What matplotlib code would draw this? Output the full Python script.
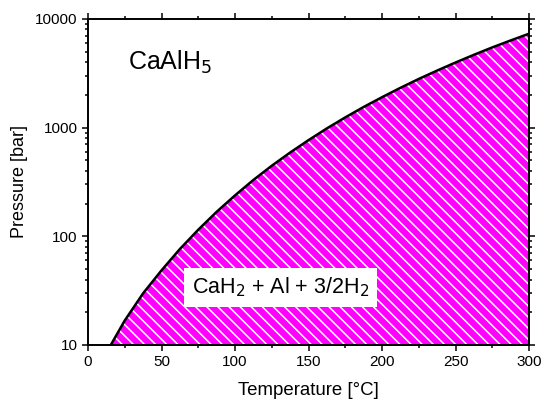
import matplotlib
matplotlib.use("Agg")
import matplotlib.pyplot as plt
from matplotlib.ticker import FixedLocator, LogLocator, NullFormatter, MultipleLocator, FuncFormatter

plt.rcParams['font.family'] = ['Liberation Sans', 'DejaVu Sans']
plt.rcParams['hatch.linewidth'] = 1.1

# Data (temperature in °C, pressure in bar)
temperature = [15.5, 25, 37.5, 50, 62.5, 75, 87.5, 100, 112.5, 125, 137.5, 150, 162.5,
               175, 187.5, 200, 212.5, 225, 237.5, 250, 262.5, 275, 287.5, 300]
pressure = [10, 16.8, 29.9, 48.6, 76.4, 115, 168, 238, 330, 446, 590, 767, 984,
            1242, 1549, 1905, 2323, 2805, 3350, 3972, 4677, 5470, 6339, 7311]

x_ticks = [0, 50, 100, 150, 200, 250, 300]
y_ticks = [10, 100, 1000, 10000]

fig = plt.figure(figsize=(5.5, 4.11), dpi=100)
ax = fig.add_axes([0.16, 0.1606, 0.802, 0.7934])

ax.fill_between(temperature, pressure, 10, facecolor='#FF00FF', edgecolor='white',
                hatch='\\\\\\', linewidth=0, zorder=1)
ax.plot(temperature, pressure, color='black', lw=1.8, zorder=3)

ax.set_yscale('log')
ax.set_xlim(0, 300)
ax.set_ylim(10, 10000)

ax.xaxis.set_major_locator(FixedLocator(x_ticks))
ax.xaxis.set_minor_locator(MultipleLocator(25))
ax.yaxis.set_major_locator(FixedLocator(y_ticks))
ax.yaxis.set_minor_locator(LogLocator(base=10, subs=range(2, 10)))
ax.yaxis.set_minor_formatter(NullFormatter())
ax.yaxis.set_major_formatter(FuncFormatter(lambda v, p: f"{int(round(v))}"))

for s in ax.spines.values():
    s.set_linewidth(1.4)

ax.tick_params(which='both', direction='out', top=True, right=True, width=1.1,
               labelsize=11, colors='black')
ax.tick_params(which='major', length=4.5, pad=3)
ax.tick_params(which='minor', length=2.5)

ax.set_xlabel('Temperature [°C]', fontsize=13.4, labelpad=9)
ax.set_ylabel('Pressure [bar]', fontsize=13, labelpad=5)

ax.text(27, 4000, 'CaAlH$_5$', fontsize=18, ha='left', va='center', zorder=5)
ax.text(131, 34, 'CaH$_2$ + Al + 3/2H$_2$', fontsize=15.5, ha='center', va='center', zorder=5,
        bbox=dict(boxstyle='square,pad=0.35', facecolor='white', edgecolor='none'))

fig.savefig('out.png', dpi=100)
